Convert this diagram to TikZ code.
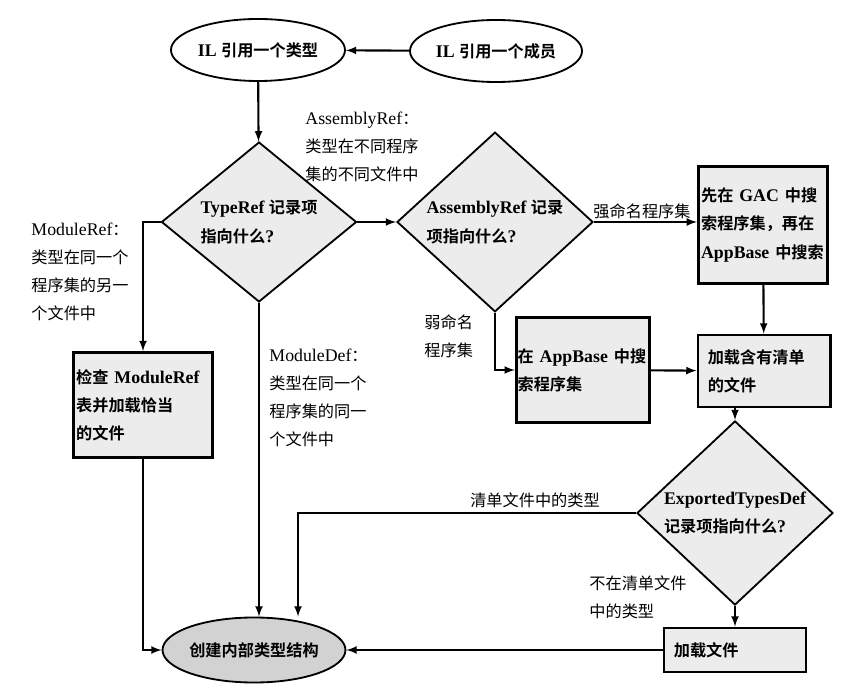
\documentclass[tikz,border=0pt]{standalone}
\usepackage{fontspec}
\setmainfont{Liberation Serif}[Scale=1.1]
\newfontfamily\cjk{Noto Sans CJK SC}[BoldFont={Noto Sans CJK SC Bold}]
\usetikzlibrary{shapes.geometric, calc}

\newcommand\zh[1]{{\cjk #1}}
\newcommand\flowsize{\fontsize{11.5}{20}\selectfont}

\tikzset{
    box/.style={draw, line width=2pt, fill=gray!15, align=left, inner xsep=2pt, font=\flowsize\bfseries},
    decide/.style={diamond, draw, line width=1.3pt, fill=gray!15, align=left, inner sep=0pt, font=\flowsize\bfseries},
    oval/.style={ellipse, draw, line width=1.3pt, inner sep=0pt, font=\flowsize\bfseries},
    note/.style={align=left, font=\flowsize},
    flow/.style={line width=1.5pt, -latex}
}

\begin{document}
\begin{tikzpicture}[x=0.025cm, y=-0.025cm]
        \useasboundingbox (0,0) rectangle (842,694);
        % ellipses at top
        \node[oval, minimum width=4.35cm, minimum height=1.55cm] (iltype) at (258,50) {IL \zh{引用一个类型}};
        \node[oval, minimum width=4.3cm, minimum height=1.55cm] (ilmember) at (496,51) {IL \zh{引用一个成员}};
        % decisions
        \node[decide, minimum width=4.875cm, minimum height=3.8cm] (typeref) at (259,222) {TypeRef \zh{记录项}\\\zh{指向什么}?};
        \node[decide, minimum width=4.9cm, minimum height=3.75cm] (asmref) at (495,222) {AssemblyRef \zh{记录}\\\zh{项指向什么}?};
        \node[decide, minimum width=4.9cm, minimum height=3.25cm] (expdef) at (735,513) {ExportedTypesDef\\\zh{记录项指向什么}?};
        % boxes
        \node[box, text width=88pt, minimum height=2.925cm] (gac) at (763,225) {\zh{先在} GAC \zh{中搜}\\\zh{索程序集，再在}\\AppBase \zh{中搜索}};
        \node[box, text width=95pt, minimum height=2.625cm] (modref) at (143,405) {\zh{检查} ModuleRef\\\zh{表并加载恰当}\\\zh{的文件}};
        \node[box, text width=93pt, inner xsep=1pt, minimum height=2.625cm] (appbase) at (583,370) {\zh{在} AppBase \zh{中搜}\\\zh{索程序集}};
        \node[box, text width=80pt, inner xsep=7pt, minimum height=1.8cm] (loadmani) at (764,371) {\zh{加载含有清单}\\\zh{的文件}};
        \node[box, text width=87pt, inner xsep=7pt, minimum height=1.1cm] (loadfile) at (735,650) {\zh{加载文件}};
        \node[oval, fill=gray!35, minimum width=4.3cm, minimum height=1.625cm] (create) at (254,650) {\zh{创建内部类型结构}};
        % labels
        \node[note, anchor=west] (asmnote) at (300,147) {AssemblyRef\zh{：}\\\zh{类型在不同程序}\\\zh{集的不同文件中}};
        \node[note, anchor=west] (modnote) at (26,272) {ModuleRef\zh{：}\\\zh{类型在同一个}\\\zh{程序集的另一}\\\zh{个文件中}};
        \node[note, anchor=west] (defnote) at (264,398) {ModuleDef\zh{：}\\\zh{类型在同一个}\\\zh{程序集的同一}\\\zh{个文件中}};
        \node[note, anchor=west] (weaknote) at (419,336) {\zh{弱命名}\\\zh{程序集}};
        \node[note] (strongnote) at (642,211) {\zh{强命名程序集}};
        \node[note] (innote) at (535,500) {\zh{清单文件中的类型}};
        \node[note, anchor=west] (outnote) at (584,597) {\zh{不在清单文件}\\\zh{中的类型}};
        % connectors
        \draw[flow] (ilmember) -- (iltype);
        \draw[flow] (iltype) -- (typeref);
        \draw[flow] (typeref) -- (asmref);
        \draw[flow] (asmref) -- (asmref -| gac.west);
        \draw[flow] (typeref.west) -| (modref.north);
        \draw[flow] (typeref.south) -- (typeref.south |- create.north);
        \draw[flow] (gac) -- (loadmani);
        \draw[flow] (asmref.south) |- (appbase.west);
        \draw[flow] (appbase) -- (loadmani);
        \draw[flow] (expdef.north |- loadmani.south) -- (expdef.north);
        \draw[flow] (expdef.west) -| ([xshift=1.1cm]create.north);
        \draw[flow] (expdef) -- (loadfile);
        \draw[flow] (loadfile) -- (create);
        \draw[flow] (modref.south) |- (create.west);
\end{tikzpicture}
\end{document}
